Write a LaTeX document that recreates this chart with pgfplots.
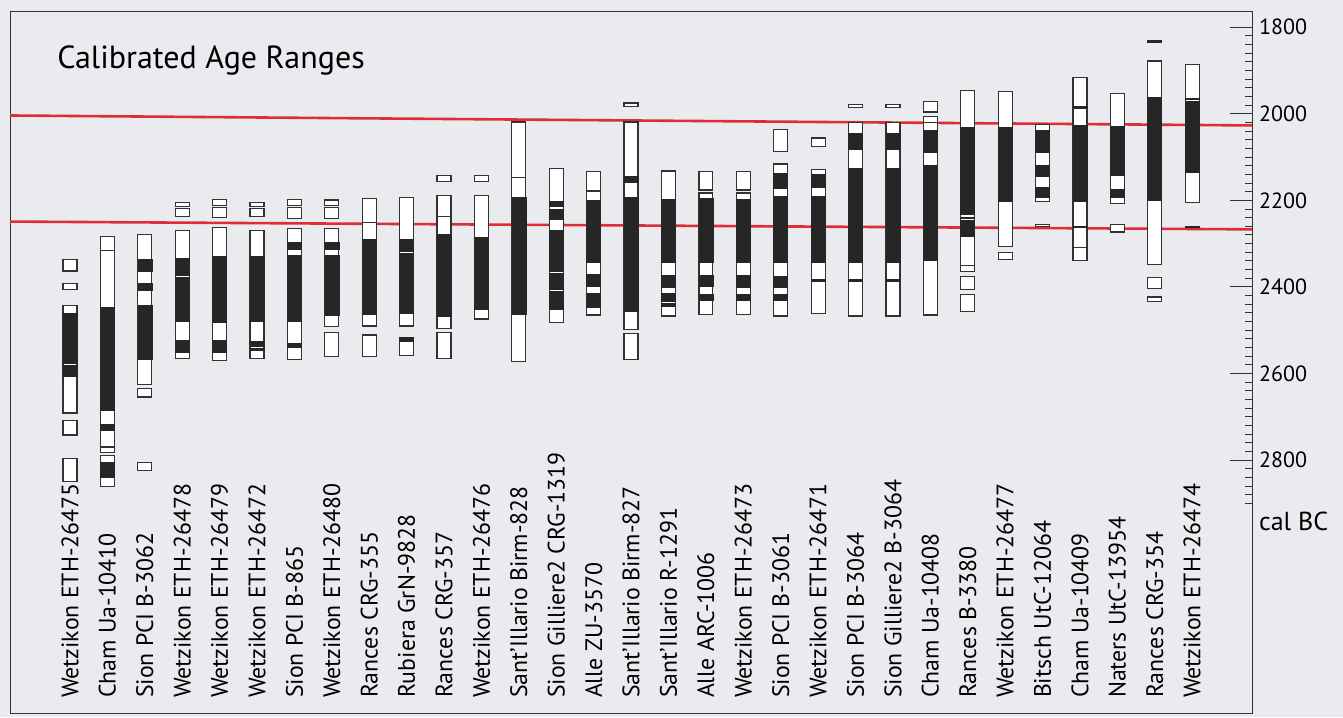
\documentclass[border=0pt]{standalone}
\usepackage{pgfplots}
\pgfplotsset{compat=1.18}
\usepackage{fontspec}
\setmainfont{PT Sans}

\definecolor{paper}{RGB}{234,235,238}
\definecolor{edge}{RGB}{50,50,50}
\definecolor{ink}{RGB}{38,38,38}
\definecolor{redline}{RGB}{222,45,55}

% one rectangle for sample #2 from year #3 to year #4, style #1
\newcommand{\rect}[4]{%
  \pgfmathsetmacro\xa{#2-0.187}%
  \pgfmathsetmacro\xb{#2+0.187}%
  \edef\doit{\noexpand\addplot[#1] coordinates {(\xa,#3) (\xb,#3) (\xb,#4) (\xa,#4)} -- cycle;}%
  \doit}
\newcommand{\W}[3]{\rect{wbox}{#1}{#2}{#3}} % 95% range (white)
\newcommand{\B}[3]{\rect{bbox}{#1}{#2}{#3}} % 68% range (black)

\begin{document}
\begin{tikzpicture}
\useasboundingbox (0,0) rectangle (671.5pt,358.5pt);
\fill[paper] (0,0) rectangle (671.5pt,358.5pt);
\begin{axis}[
    at={(5pt,2pt)}, anchor=south west,
    scale only axis,
    width=621pt, height=350.5pt,
    xmin=-0.604, xmax=32.6,
    ymin=1765, ymax=3384,
    y dir=reverse,
    clip=false,
    axis line style={edge, line width=0.5pt},
    xtick={1,...,31},
    xtick style={draw=none},
    xticklabels={Wetzikon ETH-26475, Cham Ua-10410, Sion PCI B-3062,
        Wetzikon ETH-26478, Wetzikon ETH-26479, Wetzikon ETH-26472,
        Sion PCI B-865, Wetzikon ETH-26480, Rances CRG-355, Rubiera GrN-9828,
        Rances CRG-357, Wetzikon ETH-26476, Sant’Illario Birm-828,
        Sion Gilliere2 CRG-1319, Alle ZU-3570, Sant’Illario Birm-827,
        Sant’Illario R-1291, Alle ARC-1006, Wetzikon ETH-26473,
        Sion PCI B-3061, Wetzikon ETH-26471, Sion PCI B-3064,
        Sion Gilliere2 B-3064, Cham Ua-10408, Rances B-3380,
        Wetzikon ETH-26477, Bitsch UtC-12064, Cham Ua-10409,
        Naters UtC-13954, Rances CRG-354, Wetzikon ETH-26474},
    xticklabel style={rotate=90, anchor=west, font=\fontsize{11.9}{13}\selectfont},
    xticklabel shift=-4pt,
    ytick={1800,2000,...,2800},
    minor ytick={1800,1820,...,2900},
    ytick pos=right,
    yticklabel pos=right,
    tick align=inside,
    major tick length=11pt,
    minor tick length=3.5pt,
    tick style={edge, line width=0.5pt},
    yticklabel style={font=\fontsize{11}{13}\selectfont},
    /pgf/number format/assume math mode=true,
    /pgf/number format/1000 sep={},
    wbox/.style={draw=edge, fill=white, line width=0.6pt},
    bbox/.style={draw=ink, fill=ink, line width=0.3pt},
]

% guide lines
\addplot[redline, line width=1.3pt] coordinates {(-0.604,2004) (32.6,2027)};
\addplot[redline, line width=1.3pt] coordinates {(-0.604,2249) (32.6,2267)};

% 1 Wetzikon ETH-26475
\W{1}{2336}{2363} \W{1}{2392}{2405} \W{1}{2442}{2691}
\B{1}{2460}{2577} \B{1}{2580}{2587} \B{1}{2590}{2607}
\W{1}{2709}{2742} \W{1}{2797}{2849}
% 2 Cham Ua-10410
\W{2}{2284}{2316} \W{2}{2316}{2769}
\B{2}{2446}{2669} \B{2}{2672}{2684} \B{2}{2717}{2731}
\W{2}{2771}{2783} \W{2}{2789}{2861} \B{2}{2804}{2840}
% 3 Sion PCI B-3062
\W{3}{2278}{2625} \B{3}{2336}{2363} \B{3}{2392}{2407} \B{3}{2443}{2567}
\W{3}{2634}{2654} \W{3}{2806}{2824}
% 4 Wetzikon ETH-26478
\W{4}{2205}{2214} \W{4}{2218}{2238} \W{4}{2270}{2566}
\B{4}{2333}{2373} \B{4}{2378}{2480} \B{4}{2524}{2551}
% 5 Wetzikon ETH-26479
\W{5}{2198}{2211} \W{5}{2216}{2240} \W{5}{2262}{2569}
\B{5}{2330}{2482} \B{5}{2524}{2552}
% 6 Wetzikon ETH-26472
\W{6}{2205}{2214} \W{6}{2218}{2238} \W{6}{2270}{2566}
\B{6}{2330}{2480} \B{6}{2526}{2538} \B{6}{2542}{2546}
% 7 Sion PCI B-865
\W{7}{2198}{2211} \W{7}{2216}{2242} \W{7}{2265}{2567}
\B{7}{2297}{2313} \B{7}{2327}{2480} \B{7}{2529}{2539}
% 8 Wetzikon ETH-26480
\W{8}{2199}{2211} \W{8}{2216}{2242} \W{8}{2265}{2492}
\B{8}{2297}{2313} \B{8}{2328}{2465} \W{8}{2505}{2561}
% 9 Rances CRG-355
\W{9}{2196}{2251} \W{9}{2251}{2490} \B{9}{2290}{2317} \B{9}{2321}{2463}
\W{9}{2511}{2560}
% 10 Rubiera GrN-9828
\W{10}{2193}{2490} \B{10}{2290}{2317} \B{10}{2323}{2460}
\W{10}{2517}{2559} \B{10}{2517}{2525}
% 11 Rances CRG-357
\W{11}{2142}{2157} \W{11}{2188}{2238} \W{11}{2238}{2496} \B{11}{2278}{2467}
\W{11}{2505}{2565}
% 12 Wetzikon ETH-26476
\W{12}{2142}{2157} \W{12}{2188}{2474} \B{12}{2286}{2452}
% 13 Sant'Illario Birm-828
\W{13}{2019}{2147} \W{13}{2147}{2573} \B{13}{2192}{2463}
% 14 Sion Gilliere2 CRG-1319
\W{14}{2127}{2482} \B{14}{2203}{2213} \B{14}{2221}{2244} \B{14}{2269}{2365}
\B{14}{2369}{2405} \B{14}{2411}{2451}
% 15 Alle ZU-3570
\W{15}{2133}{2177} \W{15}{2179}{2465} \B{15}{2200}{2343} \B{15}{2371}{2399}
\B{15}{2414}{2447}
% 16 Sant'Illario Birm-827
\W{16}{1975}{1984} \W{16}{2019}{2144} \W{16}{2144}{2498}
\B{16}{2144}{2158} \B{16}{2192}{2457} \W{16}{2507}{2567}
% 17 Sant'Illario R-1291
\W{17}{2132}{2467} \B{17}{2198}{2344} \B{17}{2373}{2400} \B{17}{2415}{2432}
\B{17}{2438}{2444}
% 18 Alle ARC-1006
\W{18}{2134}{2176} \W{18}{2183}{2463} \B{18}{2196}{2344} \B{18}{2373}{2398}
\B{18}{2417}{2430}
% 19 Wetzikon ETH-26473
\W{19}{2134}{2176} \W{19}{2183}{2463} \B{19}{2198}{2344} \B{19}{2373}{2400}
\B{19}{2417}{2430}
% 20 Sion PCI B-3061
\W{20}{2036}{2088} \W{20}{2116}{2467} \B{20}{2138}{2173} \B{20}{2190}{2344}
\B{20}{2375}{2400} \B{20}{2417}{2430}
% 21 Wetzikon ETH-26471
\W{21}{2056}{2075} \W{21}{2128}{2461} \B{21}{2140}{2171} \B{21}{2190}{2342}
\B{21}{2382}{2386}
% 22 Sion PCI B-3064
\W{22}{1979}{1986} \W{22}{2021}{2467} \B{22}{2044}{2083} \B{22}{2126}{2342}
\B{22}{2382}{2386}
% 23 Sion Gilliere2 B-3064
\W{23}{1979}{1986} \W{23}{2021}{2467} \B{23}{2044}{2083} \B{23}{2126}{2342}
\B{23}{2382}{2386}
% 24 Cham Ua-10408
\W{24}{1972}{1996} \W{24}{2007}{2020} \W{24}{2020}{2465}
\B{24}{2038}{2090} \B{24}{2120}{2339}
% 25 Rances B-3380
\W{25}{1947}{2351} \W{25}{2351}{2365} \B{25}{2032}{2232} \B{25}{2238}{2242}
\B{25}{2246}{2284} \W{25}{2375}{2406} \W{25}{2417}{2456}
% 26 Wetzikon ETH-26477
\W{26}{1949}{2307} \B{26}{2032}{2203} \W{26}{2321}{2336}
% 27 Bitsch UtC-12064
\W{27}{2024}{2203} \B{27}{2038}{2090} \B{27}{2120}{2144} \B{27}{2169}{2193}
\W{27}{2256}{2261}
% 28 Cham Ua-10409
\W{28}{1916}{2309} \W{28}{2309}{2339} \B{28}{1982}{1987} \B{28}{2026}{2203}
\B{28}{2259}{2263}
% 29 Naters UtC-13954
\W{29}{1953}{2207} \B{29}{2029}{2143} \B{29}{2175}{2192} \W{29}{2255}{2273}
% 30 Rances CRG-354
\B{30}{1830}{1834} \W{30}{1878}{2348} \B{30}{1962}{2201}
\W{30}{2378}{2403} \W{30}{2423}{2433}
% 31 Wetzikon ETH-26474
\W{31}{1886}{2205} \B{31}{1964}{1967} \B{31}{1971}{2136} \B{31}{2259}{2263}

\node[anchor=west, inner sep=0pt, font=\fontsize{16}{19}\selectfont] at (axis cs:0.652,1877) {Calibrated Age Ranges};
\node[anchor=west, font=\fontsize{13}{15}\selectfont] at (axis cs:32.6,2941) {cal BC};
\end{axis}
\end{tikzpicture}
\end{document}
